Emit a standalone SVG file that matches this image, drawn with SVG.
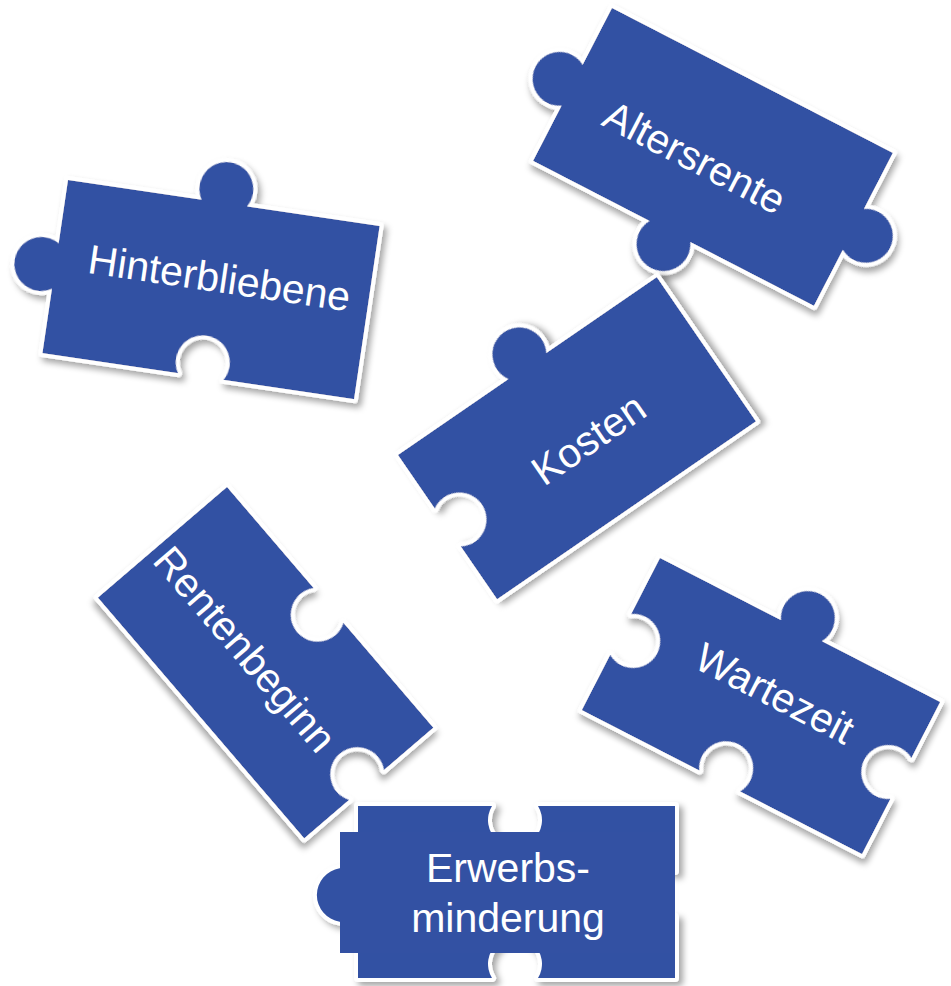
<svg xmlns="http://www.w3.org/2000/svg" width="951" height="986" viewBox="0 0 951 986">
<style>
.pc{fill:#3351A3;stroke:#fff;stroke-width:8;paint-order:stroke;stroke-linejoin:round;filter:url(#sh)}
.lb{fill:#fff;font-family:"Liberation Sans",Arial,sans-serif;font-size:41px;text-anchor:middle}
</style>
<defs>
<filter id="sh" x="-15%" y="-15%" width="135%" height="135%">
<feDropShadow dx="4" dy="4" stdDeviation="3" flood-color="#000" flood-opacity="0.35"/>
</filter>
</defs>
<rect width="951" height="986" fill="#fff"/>
<g id="hinterbliebene" transform="translate(68,180) rotate(8.4)">
<path class="pc" d="M0,0 L135,0 A27,27 0 1 1 181,0 L315,0 L315,175 L183,175 A27,27 0 1 0 137,175 L0,175 L0,110 A27,27 0 1 1 0,64 Z"/>
<text class="lb" x="164" y="89">Hinterbliebene</text>
</g>
<g id="altersrente" transform="translate(612,8) rotate(27.3)">
<path class="pc" d="M0,0 L316,0 L316,63 A27,27 0 1 1 316,109 L316,172 L177,172 A27,27 0 1 1 131,172 L0,172 L0,110 A27,27 0 1 1 0,64 Z"/>
<text class="lb" x="142" y="109">Altersrente</text>
</g>
<g id="kosten" transform="translate(398,455) rotate(-34.5)">
<path class="pc" d="M0,0 L134,0 A27,27 0 1 1 180,0 L314,0 L314,175 L0,175 L0,111 A27,27 0 1 0 0,65 Z"/>
<text class="lb" x="166" y="109">Kosten</text>
</g>
<g id="rentenbeginn" transform="translate(227,487) rotate(49.4)">
<path class="pc" d="M0,0 L133,0 A27,27 0 1 0 179,0 L317,0 L317,65 A27,27 0 1 0 317,111 L317,170 L0,170 Z"/>
<text class="lb" x="135" y="106">Rentenbeginn</text>
</g>
<g id="wartezeit" transform="translate(660,558) rotate(27.2)">
<path class="pc" d="M0,0 L136,0 A27,27 0 1 1 182,0 L315,0 L315,63 A27,27 0 1 0 315,109 L315,171 L178,171 A27,27 0 1 0 132,171 L0,171 L0,109 A27,27 0 1 0 0,63 Z"/>
<text class="lb" x="164" y="82">Wartezeit</text>
</g>
<g id="erwerbsminderung">
<path class="pc" d="M358,806 L492,806 A27,27 0 1 0 538,806 L675,806 L675,871 A27,27 0 1 0 675,917 L675,978 L538,978 A27,27 0 1 0 492,978 L358,978 L358,918 A27,27 0 1 1 358,872 Z"/>
<rect x="340" y="832" width="335" height="121" fill="#3351A3"/>
<text class="lb" x="508" y="882">Erwerbs-</text>
<text class="lb" x="508" y="932">minderung</text>
</g>
</svg>
